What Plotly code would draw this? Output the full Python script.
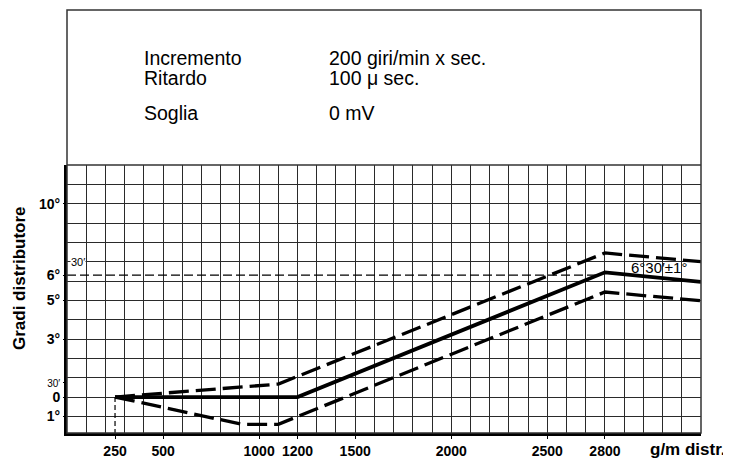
import plotly.graph_objects as go

# ---------------- data ----------------
x_nominal = [250, 1200, 2800, 3300]
y_nominal = [0, 0, 6.45, 5.95]

x_upper = [250, 1100, 2800, 3300]
y_upper = [0, 0.67, 7.45, 7.0]

x_lower = [250, 910, 1100, 2800, 3300]
y_lower = [0, -1.41, -1.41, 5.43, 4.98]

x_ref_vertical = [250, 250]
y_ref_vertical = [0, -1.86]
x_ref_horizontal = [0, 2770]
y_ref_horizontal = [6.3, 6.3]

x_tick_vals = [250, 500, 1000, 1200, 1500, 2000, 2500, 2800]
x_tick_text = ["250", "500", "1000", "1200", "1500", "2000", "2500", "2800"]

y_tick_vals = [10, 6.3, 5, 3, 0.76, 0, -1]
y_tick_text = ["10°", "6°", "5°", "3°",
               "<span style='font-size:10px;font-weight:normal'>30′</span>",
               "0", "1°"]

param_labels = ["Incremento", "Ritardo", "Soglia"]
param_values = ["200 giri/min x sec.", "100 μ sec.", "0 mV"]

X_RANGE = [0, 3300]
Y_RANGE = [-1.86, 12]

# ---------------- layout geometry (pixels) ----------------
OFF = 8  # default page margin around the figure
W, H = 731 - OFF, 458 - OFF
ML, MR, MT, MB = 67 - OFF, 30, 165 - OFF, 25
PW, PH = W - ML - MR, H - MT - MB


def px_x(px):
    return (px - OFF - ML) / PW


def px_y(py):
    return (H - MB - (py - OFF)) / PH


FONT = "Liberation Sans, Arial, sans-serif"

fig = go.Figure()

fig.add_trace(go.Scatter(x=x_ref_vertical, y=y_ref_vertical, mode="lines",
                         line=dict(color="black", width=1.2, dash="5px,3px"),
                         cliponaxis=False, hoverinfo="skip", showlegend=False))
fig.add_trace(go.Scatter(x=x_ref_horizontal, y=y_ref_horizontal, mode="lines",
                         line=dict(color="black", width=1.2, dash="9px,4px"),
                         hoverinfo="skip", showlegend=False))
fig.add_trace(go.Scatter(x=x_upper, y=y_upper, mode="lines",
                         line=dict(color="black", width=3.3, dash="20px,7px"),
                         hoverinfo="skip", showlegend=False))
fig.add_trace(go.Scatter(x=x_lower, y=y_lower, mode="lines",
                         line=dict(color="black", width=3.3, dash="20px,7px"),
                         hoverinfo="skip", showlegend=False))
fig.add_trace(go.Scatter(x=x_nominal, y=y_nominal, mode="lines",
                         line=dict(color="black", width=3.8),
                         hoverinfo="skip", showlegend=False))
# empty trace to activate the labelled overlay axes
fig.add_trace(go.Scatter(x=[], y=[], xaxis="x2", yaxis="y2",
                         hoverinfo="skip", showlegend=False))

grid_col = "#2a2a2a"
tick_font = dict(family=FONT, size=14, color="black", weight="bold")
fig.update_layout(
    width=W, height=H,
    margin=dict(l=ML, r=MR, t=MT, b=MB, pad=0, autoexpand=False),
    paper_bgcolor="white", plot_bgcolor="white",
    font=dict(family=FONT, color="black"),
    xaxis=dict(range=X_RANGE, tickmode="linear", tick0=0, dtick=100,
               showticklabels=False, ticks="", showgrid=True,
               gridcolor=grid_col, gridwidth=1.2, zeroline=False,
               showline=True, linecolor="black", linewidth=3,
               automargin=False, fixedrange=True),
    yaxis=dict(range=Y_RANGE, tickmode="linear", tick0=0, dtick=1,
               showticklabels=False, ticks="", showgrid=True,
               gridcolor=grid_col, gridwidth=1.2, zeroline=False,
               showline=True, linecolor="black", linewidth=2.5,
               automargin=False, fixedrange=True),
    xaxis2=dict(range=X_RANGE, overlaying="x", anchor="y", side="bottom",
                tickmode="array", tickvals=x_tick_vals, ticktext=x_tick_text,
                ticks="outside", ticklen=5, tickwidth=1.2, tickcolor="black",
                showgrid=False, zeroline=False, showline=False,
                tickfont=tick_font, automargin=False, fixedrange=True),
    yaxis2=dict(range=Y_RANGE, overlaying="y", anchor="x", side="left",
                tickmode="array", tickvals=y_tick_vals, ticktext=y_tick_text,
                ticks="outside", ticklen=3, tickwidth=1.2, tickcolor="black",
                showgrid=False, zeroline=False, showline=False,
                tickfont=tick_font, automargin=False, fixedrange=True),
)

# frame of the upper information box and the whole drawing
fig.add_shape(type="rect", xref="paper", yref="paper",
              x0=0, x1=1, y0=0, y1=px_y(10),
              line=dict(color="#333", width=1.5))
fig.add_shape(type="line", xref="paper", yref="paper",
              x0=0, x1=1, y0=1, y1=1,
              line=dict(color="#333", width=1.3))

# parameter texts
rows_py = [58, 78, 113]
for lab, val, py in zip(param_labels, param_values, rows_py):
    fig.add_annotation(xref="paper", yref="paper", x=px_x(142), y=px_y(py),
                       text=lab, showarrow=False, xanchor="left",
                       yanchor="middle", font=dict(size=19.5, family=FONT))
    fig.add_annotation(xref="paper", yref="paper", x=px_x(327), y=px_y(py),
                       text=val, showarrow=False, xanchor="left",
                       yanchor="middle", font=dict(size=19.5, family=FONT))

# upper 30' label inside the grid
fig.add_annotation(x=15, y=7, xref="x", yref="y", text="30′",
                   showarrow=False, xanchor="left", yanchor="middle",
                   bgcolor="white", borderpad=0,
                   font=dict(size=11, family=FONT))

# tolerance annotation
fig.add_annotation(x=3082, y=6.7, xref="x", yref="y", text="6°30′±1°",
                   showarrow=False, xanchor="center", yanchor="middle",
                   font=dict(size=15, family=FONT))

# axis titles
fig.add_annotation(xref="paper", yref="paper", x=px_x(19), y=px_y(278),
                   text="<b>Gradi distributore</b>", textangle=-90,
                   showarrow=False, xanchor="center", yanchor="middle",
                   font=dict(size=17, family=FONT))
fig.add_annotation(xref="paper", yref="paper", x=px_x(688), y=px_y(449),
                   text="<b>g/m distr.</b>", showarrow=False,
                   xanchor="center", yanchor="middle",
                   font=dict(size=17, family=FONT))

fig.write_html("out.html")
